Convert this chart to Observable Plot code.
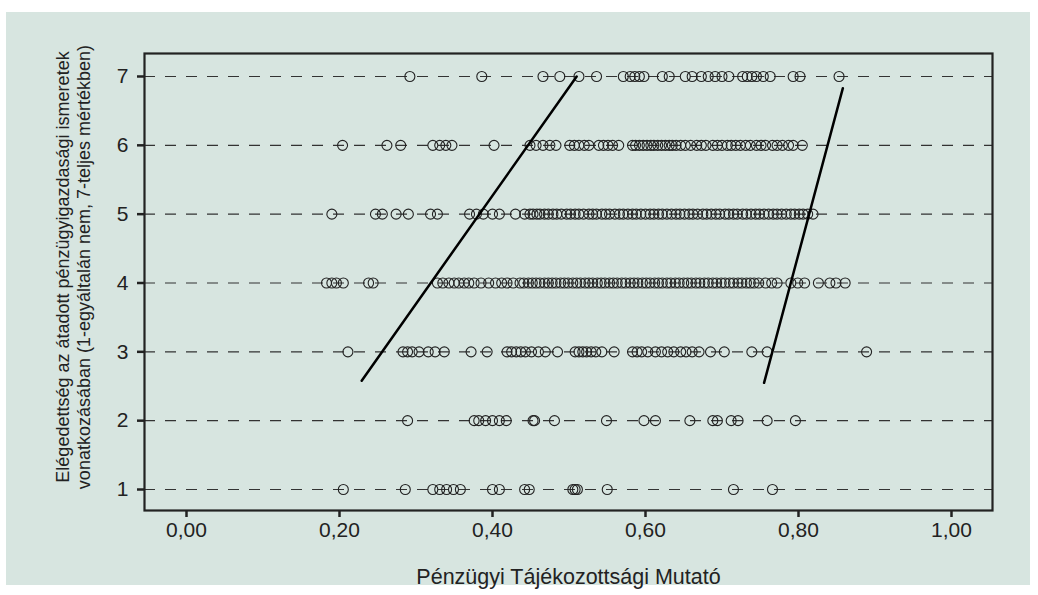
<!DOCTYPE html>
<html><head><meta charset="utf-8">
<script src="https://cdn.jsdelivr.net/npm/d3@7"></script>
<script src="https://cdn.jsdelivr.net/npm/@observablehq/plot@0.6"></script>
<style>
html,body{margin:0;padding:0;background:#fff;}
#wrap{position:relative;width:1038px;height:595px;overflow:hidden;}
#panel{position:absolute;left:6px;top:12px;width:1024px;height:573px;background:#d7e5e0;}
#chart{position:absolute;left:0;top:0;}
</style></head><body>
<div id="wrap"><div id="panel"></div><div id="chart"></div></div>
<script>
const xTicks = [0, 0.2, 0.4, 0.6, 0.8, 1.0];
const yTicks = [1, 2, 3, 4, 5, 6, 7];
const xTitle = "Pénzügyi Tájékozottsági Mutató";
const yTitle = "Elégedettség az átadott pénzügyigazdasági ismeretek\nvonatkozásában (1-egyáltalán nem, 7-teljes mértékben)";

const row7 = [0.292,0.386,0.466,0.488,0.513,0.536,0.571,0.580,0.586,0.592,0.598,0.622,0.631,0.652,0.661,0.673,0.682,0.691,0.700,0.709,0.727,0.733,0.739,0.745,0.754,0.763,0.793,0.802,0.853];
const row6 = [0.204,0.262,0.280,0.322,0.331,0.339,0.347,0.402,0.449,0.457,0.466,0.475,0.483,0.501,0.507,0.513,0.520,0.526,0.539,0.545,0.551,0.557,0.565,0.583,0.587,0.592,0.597,0.602,0.607,0.611,0.616,0.621,0.626,0.631,0.635,0.640,0.646,0.652,0.659,0.667,0.673,0.679,0.688,0.694,0.700,0.707,0.712,0.718,0.724,0.731,0.737,0.745,0.751,0.757,0.766,0.772,0.779,0.787,0.793,0.805];
const row5 = [0.190,0.247,0.256,0.274,0.290,0.319,0.328,0.370,0.379,0.388,0.400,0.409,0.430,0.442,0.449,0.453,0.458,0.462,0.468,0.473,0.479,0.484,0.490,0.497,0.502,0.508,0.513,0.519,0.526,0.531,0.536,0.543,0.548,0.553,0.560,0.566,0.571,0.577,0.583,0.588,0.594,0.600,0.606,0.611,0.617,0.622,0.628,0.634,0.640,0.645,0.651,0.657,0.662,0.668,0.675,0.680,0.686,0.692,0.697,0.704,0.709,0.715,0.720,0.727,0.732,0.738,0.744,0.749,0.755,0.761,0.767,0.772,0.778,0.784,0.790,0.795,0.801,0.806,0.812,0.819];
const row4 = [0.183,0.190,0.196,0.205,0.238,0.244,0.328,0.335,0.343,0.350,0.356,0.363,0.369,0.376,0.385,0.395,0.404,0.412,0.419,0.427,0.436,0.441,0.447,0.452,0.457,0.462,0.468,0.473,0.478,0.483,0.489,0.494,0.499,0.505,0.510,0.515,0.521,0.526,0.531,0.537,0.542,0.547,0.553,0.558,0.563,0.569,0.574,0.580,0.585,0.590,0.596,0.601,0.606,0.612,0.617,0.622,0.628,0.633,0.639,0.644,0.650,0.655,0.660,0.666,0.671,0.677,0.682,0.688,0.693,0.699,0.704,0.710,0.715,0.721,0.726,0.732,0.737,0.742,0.748,0.757,0.765,0.772,0.790,0.799,0.808,0.826,0.841,0.849,0.861];
const row3 = [0.211,0.283,0.289,0.295,0.304,0.316,0.325,0.337,0.372,0.393,0.419,0.425,0.431,0.437,0.443,0.451,0.460,0.469,0.485,0.508,0.513,0.518,0.523,0.529,0.535,0.543,0.559,0.583,0.589,0.595,0.603,0.613,0.621,0.629,0.637,0.646,0.653,0.661,0.670,0.685,0.703,0.739,0.759,0.889];
const row2 = [0.289,0.376,0.382,0.391,0.400,0.409,0.418,0.453,0.455,0.481,0.549,0.598,0.613,0.658,0.688,0.694,0.712,0.721,0.759,0.796];
const row1 = [0.205,0.286,0.322,0.331,0.340,0.349,0.358,0.400,0.409,0.442,0.448,0.505,0.508,0.511,0.550,0.715,0.766];

const lineAx = [0.229, 0.510], lineAy = [2.58, 7.0];
const lineBx = [0.755, 0.858], lineBy = [2.55, 6.83];

const rows = [row1, row2, row3, row4, row5, row6, row7];
const points = rows.flatMap((r, i) => r.map(v => ({x: v, y: i + 1})));
const lineA = lineAx.map((x, i) => ({x, y: lineAy[i]}));
const lineB = lineBx.map((x, i) => ({x, y: lineBy[i]}));

const font = "'Liberation Sans', Arial, Helvetica, sans-serif";
const chart = Plot.plot({
  width: 1038, height: 595,
  marginLeft: 144, marginRight: 46, marginTop: 53, marginBottom: 85,
  style: {background: "transparent", fontFamily: font, color: "#222"},
  x: {domain: [-0.0549, 1.0536]},
  y: {domain: [0.695, 7.334]},
  marks: [
    Plot.ruleY(yTicks, {stroke: "#333", strokeWidth: 1.2, strokeDasharray: "11,10"}),
    Plot.dot(points, {x: "x", y: "y", r: 5, stroke: "#222", fill: "none", strokeWidth: 1.1}),
    Plot.line(lineA, {x: "x", y: "y", stroke: "#000", strokeWidth: 2.5}),
    Plot.line(lineB, {x: "x", y: "y", stroke: "#000", strokeWidth: 2.5}),
    Plot.frame({stroke: "#222", strokeWidth: 2.2}),
    Plot.axisX({ticks: xTicks, tickFormat: d => d.toFixed(2).replace(".", ","), tickSize: 7, tickPadding: 5, strokeWidth: 2.5, fontSize: 21, label: null}),
    Plot.axisY({ticks: yTicks, tickFormat: d => String(d), tickSize: 7, tickPadding: 9, strokeWidth: 2.5, fontSize: 21, label: null}),
    Plot.text([xTitle], {frameAnchor: "bottom", dy: 67, fontSize: 21.5, lineAnchor: "middle", fill: "#222"}),
    Plot.text([yTitle], {frameAnchor: "left", rotate: -90, dx: -72, dy: -15, fontSize: 18, lineHeight: 1.2, textAnchor: "middle", lineAnchor: "middle", fill: "#222"})
  ]
});
document.getElementById("chart").appendChild(chart);
</script>
</body></html>
